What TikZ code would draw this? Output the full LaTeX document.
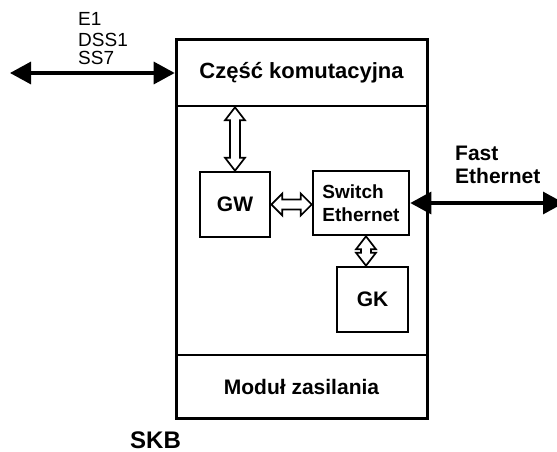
\documentclass[tikz,border=0pt]{standalone}
\usepackage{fontspec}
\setmainfont{Liberation Sans}
\usetikzlibrary{arrows.meta,calc}
\tikzset{
  box/.style={draw, line width=2.6pt, inner sep=0pt, align=center,
    font=\bfseries\fontsize{21}{24}\selectfont},
  thickarrow/.style={line width=3.2pt,
    {Triangle[length=21pt,width=22pt]}-{Triangle[length=21pt,width=22pt]}},
  blockarrow/.style={draw, line width=1.7pt, fill=white, line join=miter},
  lbl/.style={inner sep=0pt, anchor=base west},
}
\newcommand\vblock[2]{%
  \path[blockarrow] let \p1=#1, \p2=#2 in
    (\x1,\y1) -- (\x1-10pt,\y1-13pt) -- (\x1-5pt,\y1-13pt) -- (\x1-5pt,\y2+13pt)
    -- (\x1-10pt,\y2+13pt) -- (\x1,\y2) -- (\x1+10pt,\y2+13pt) -- (\x1+5pt,\y2+13pt)
    -- (\x1+5pt,\y1-13pt) -- (\x1+10pt,\y1-13pt) -- cycle;}
\newcommand\hblock[2]{%
  \path[blockarrow] let \p1=#1, \p2=#2 in
    (\x1,\y1) -- (\x1+11pt,\y1+11pt) -- (\x1+11pt,\y1+5pt) -- (\x2-11pt,\y1+5pt)
    -- (\x2-11pt,\y1+11pt) -- (\x2,\y1) -- (\x2-11pt,\y1-11pt) -- (\x2-11pt,\y1-5pt)
    -- (\x1+11pt,\y1-5pt) -- (\x1+11pt,\y1-11pt) -- cycle;}
\begin{document}
\begin{tikzpicture}[x=1pt,y=-1pt]
  \clip (0,0) rectangle (557,452);
  \fill[white] (0,0) rectangle (557,452);

  % outer frame and sections
  \node[box, line width=3pt, minimum width=251pt, minimum height=378pt] (skb) at (301.5,229) {};
  \node[box, minimum width=251pt, minimum height=66pt,
        font=\bfseries\fontsize{22}{26}\selectfont] (komut) at (301.5,73) {Część komutacyjna};
  \node[box, minimum width=251pt, minimum height=63pt] (modul) at (301.5,386.5) {Moduł zasilania};

  % inner blocks
  \node[box, minimum width=70pt, minimum height=65pt] (gw) at (235,204.5) {GW};
  \node[box, align=left, minimum width=96pt, minimum height=64pt,
        font=\bfseries\fontsize{19}{23}\selectfont] (sw) at (361,203) {Switch\\Ethernet};
  \node[box, minimum width=71pt, minimum height=65pt] (gk) at (372.5,299.5) {GK};

  % labels
  \node[lbl, font=\fontsize{19}{21}\selectfont] (e1) at (78,25.5) {E1};
  \node[lbl, font=\fontsize{19}{21}\selectfont] (dss) at (78,46.5) {DSS1};
  \node[lbl, font=\fontsize{19}{21}\selectfont] (ss7) at (78,65) {SS7};
  \node[lbl, font=\bfseries\fontsize{21}{24}\selectfont] (fast) at (455,160) {Fast};
  \node[lbl, font=\bfseries\fontsize{21}{24}\selectfont] (eth) at (455,183) {Ethernet};
  \node[lbl, font=\bfseries\fontsize{24}{28}\selectfont] (skbl) at (130,448) {SKB};

  % external thick arrows
  \coordinate (west) at (10,73);
  \coordinate (east) at (564,203);
  \draw[thickarrow] (west) -- (komut.west);
  \draw[thickarrow] (sw.east) -- (east);

  % internal block arrows
  \vblock{(gw.north |- komut.south)}{(gw.north)}
  \hblock{(gw.east)}{(sw.west |- gw.east)}
  \vblock{([xshift=5pt]sw.south)}{(gk.north)}
\end{tikzpicture}
\end{document}
